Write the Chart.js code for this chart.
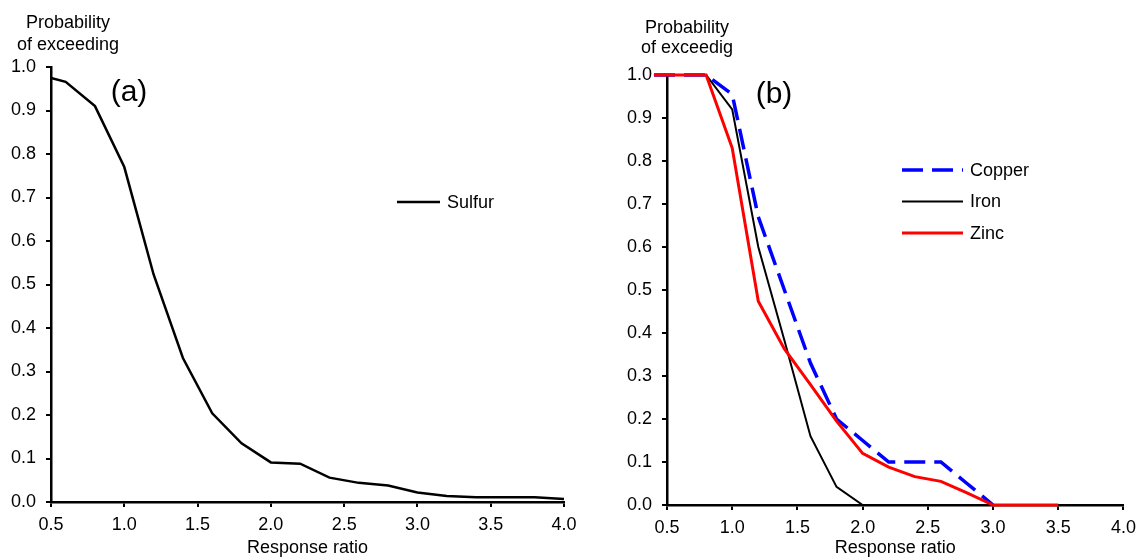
<!DOCTYPE html>
<html>
<head>
<meta charset="utf-8">
<script src="https://cdn.jsdelivr.net/npm/chart.js@4.4.0/dist/chart.umd.min.js"></script>
<style>
  html, body { margin: 0; padding: 0; background: #fff; }
  body { width: 1143px; height: 557px; position: relative; overflow: hidden; }
  .panel { position: absolute; top: 0; }
  #wrapA { left: 0; }
  #wrapB { left: 600px; }
</style>
</head>
<body>
<div class="panel" id="wrapA"><canvas id="chartA" width="590" height="557"></canvas></div>
<div class="panel" id="wrapB"><canvas id="chartB" width="543" height="557"></canvas></div>
<script>
// ── Data ─────────────────────────────────────────────────────────────────
// (a) sulfur
const sulfurX = [0.5, 0.6, 0.8, 1.0, 1.2, 1.4, 1.6, 1.8, 2.0, 2.2, 2.4, 2.6, 2.8, 3.0, 3.2, 3.4, 3.6, 3.8, 4.0];
const sulfurP = [0.975, 0.966, 0.91, 0.77, 0.523, 0.331, 0.204, 0.135, 0.091, 0.088, 0.056, 0.044, 0.038, 0.022, 0.014, 0.011, 0.011, 0.011, 0.007];

// (b) metals
const metalX = [0.4, 0.6, 0.8, 1.0, 1.2, 1.4, 1.6, 1.8, 2.0, 2.2, 2.4, 2.6, 2.8, 3.0];
const copperP = [1, 1, 1, 0.955, 0.67, 0.50, 0.33, 0.20, 0.15, 0.10, 0.10, 0.10, 0.05, 0];
const ironP   = [1, 1, 1, 0.92, 0.60, 0.383, 0.16, 0.042, 0, 0, 0, 0, 0, 0];
const zincX   = [0.4, 0.6, 0.8, 1.0, 1.2, 1.4, 1.6, 1.8, 2.0, 2.2, 2.4, 2.6, 2.8, 3.0, 3.5];
const zincP   = [1, 1, 1, 0.83, 0.474, 0.363, 0.28, 0.195, 0.12, 0.088, 0.066, 0.055, 0.028, 0, 0];

const xTicks = { min: 0.5, max: 4.0, step: 0.5 };
const yTicks = { min: 0, max: 1.0, step: 0.1 };

const FONT = "'Liberation Sans', Arial, sans-serif";
const pts = (xs, ys) => xs.map((x, i) => ({ x, y: ys[i] }));

// header text, panel tag and legend drawn onto the canvas
const notesPlugin = {
  id: 'notes',
  afterDraw(chart, args, o) {
    const ctx = chart.ctx;
    ctx.save();
    ctx.fillStyle = '#000';
    ctx.font = `18px ${FONT}`;
    ctx.textAlign = 'center';
    ctx.textBaseline = 'alphabetic';
    o.header.forEach((line, i) => ctx.fillText(line, o.headerX, o.headerY + i * o.headerGap));

    ctx.font = `30px ${FONT}`;
    ctx.textBaseline = 'middle';
    ctx.fillText(o.tag, o.tagX, o.tagY);

    ctx.font = `18px ${FONT}`;
    ctx.textAlign = 'left';
    chart.data.datasets.forEach((ds, i) => {
      const y = o.legendY + i * o.legendGap;
      ctx.beginPath();
      ctx.strokeStyle = ds.borderColor;
      ctx.lineWidth = ds.borderWidth;
      ctx.setLineDash(ds.borderDash || []);
      ctx.moveTo(o.legendX, y);
      ctx.lineTo(o.legendX + o.legendLen, y);
      ctx.stroke();
      ctx.setLineDash([]);
      ctx.fillText(ds.label, o.textX, y + 1);
    });
    ctx.restore();
  }
};

function makeOptions(cfg) {
  const tickFont = { family: FONT, size: 18 };
  return {
    responsive: false,
    animation: false,
    layout: { padding: { left: 0, top: cfg.top, right: cfg.right, bottom: 0 } },
    plugins: { legend: { display: false }, tooltip: { enabled: false }, notes: cfg.notes },
    elements: { point: { radius: 0 }, line: { tension: 0 } },
    scales: {
      x: {
        type: 'linear', min: xTicks.min, max: xTicks.max,
        ticks: { stepSize: xTicks.step, callback: v => v.toFixed(1), font: tickFont, color: '#000', padding: 7, maxRotation: 0, autoSkip: false },
        grid: { drawOnChartArea: false, drawTicks: true, tickLength: 5, color: '#000', lineWidth: 2 },
        border: { color: '#000', width: 2.5 },
        title: { display: true, text: 'Response ratio', font: tickFont, color: '#000', padding: { top: 0, bottom: -2 } },
        afterFit: s => { s.height = cfg.xh; }
      },
      y: {
        min: yTicks.min, max: yTicks.max,
        ticks: { stepSize: yTicks.step, callback: v => v.toFixed(1), font: tickFont, color: '#000', padding: 10 },
        grid: { drawOnChartArea: false, drawTicks: true, tickLength: 5, color: '#000', lineWidth: 2 },
        border: { color: '#000', width: 2.5 },
        afterFit: s => { s.width = cfg.yw; }
      }
    }
  };
}

// (a)
new Chart(document.getElementById('chartA'), {
  type: 'line',
  data: {
    datasets: [{
      label: 'Sulfur', data: pts(sulfurX, sulfurP),
      borderColor: '#000', borderWidth: 2.5, fill: false
    }]
  },
  options: makeOptions({
    top: 67, right: 26, xh: 55, yw: 51,
    notes: {
      header: ['Probability', 'of exceeding'], headerX: 68, headerY: 28, headerGap: 22,
      tag: '(a)', tagX: 129, tagY: 93,
      legendX: 397, legendLen: 43, textX: 447, legendY: 202, legendGap: 32
    }
  }),
  plugins: [notesPlugin]
});

// (b) — zinc drawn on top, iron underneath
new Chart(document.getElementById('chartB'), {
  type: 'line',
  data: {
    datasets: [
      { label: 'Copper', data: pts(metalX, copperP), borderColor: '#0000ff', borderWidth: 3.5, borderDash: [21, 9], fill: false, clip: false, order: 1 },
      { label: 'Iron', data: pts(metalX, ironP), borderColor: '#000', borderWidth: 2, fill: false, clip: false, order: 2 },
      { label: 'Zinc', data: pts(zincX, zincP), borderColor: '#ff0000', borderWidth: 3, fill: false, clip: false, order: 0 }
    ]
  },
  options: makeOptions({
    top: 75, right: 14, xh: 52, yw: 67,
    notes: {
      header: ['Probability', 'of exceedig'], headerX: 87, headerY: 33, headerGap: 20,
      tag: '(b)', tagX: 174, tagY: 95,
      legendX: 302, legendLen: 61, textX: 370, legendY: 170, legendGap: 31.5
    }
  }),
  plugins: [notesPlugin]
});
</script>
</body>
</html>
